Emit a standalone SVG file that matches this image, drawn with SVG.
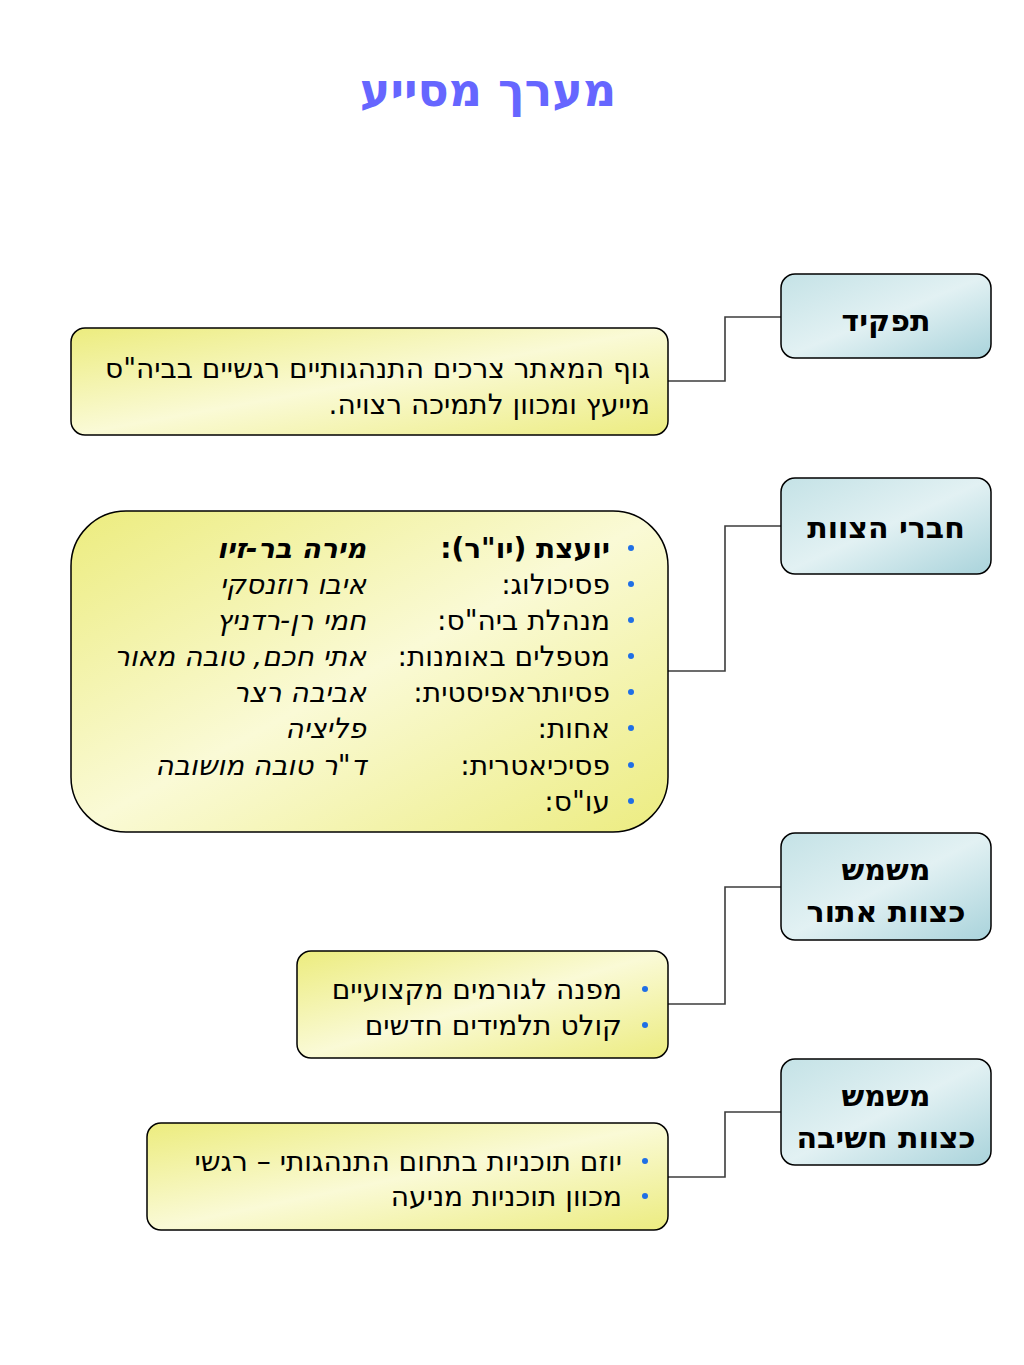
<svg xmlns="http://www.w3.org/2000/svg" width="1024" height="1365" viewBox="0 0 1024 1365">
<defs>
<linearGradient id="gy" x1="0" y1="0" x2="1" y2="1">
<stop offset="0" stop-color="#ecec7e"/>
<stop offset="0.5" stop-color="#fafad6"/>
<stop offset="1" stop-color="#ecec80"/>
</linearGradient>
<linearGradient id="gt" x1="0" y1="0" x2="1" y2="1">
<stop offset="0" stop-color="#c4e2e6"/>
<stop offset="0.5" stop-color="#e2f1f3"/>
<stop offset="1" stop-color="#a9d3db"/>
</linearGradient>
<style>
.y{fill:url(#gy);stroke:#000;stroke-width:1.5}
.t{fill:url(#gt);stroke:#000;stroke-width:1.5}
.h{font-family:"DejaVu Sans","Noto Sans",sans-serif;font-size:30px;font-weight:bold;fill:#000;text-anchor:middle}
.tx{font-family:"DejaVu Sans","Noto Sans",sans-serif;font-size:28px;fill:#000;direction:rtl;text-anchor:start}
.it{font-style:italic}
.b{font-weight:bold}
.bu{fill:#1f6fe6}
.c{fill:none;stroke:#3c3c3c;stroke-width:1.6}
</style>
</defs>
<rect width="1024" height="1365" fill="#fff"/>
<text x="488" y="106" font-family="DejaVu Sans, sans-serif" font-size="46" font-weight="bold" fill="#6666ff" text-anchor="middle">מערך מסייע</text>

<g id="connectors">
<polyline class="c" points="781,317 725,317 725,381 668,381"/>
<polyline class="c" points="781,526 725,526 725,671 668,671"/>
<polyline class="c" points="781,887 725,887 725,1004 668,1004"/>
<polyline class="c" points="781,1112 725,1112 725,1177 668,1177"/>
</g>

<g id="role">
<rect class="t" x="781" y="274" width="210" height="84" rx="14"/>
<text class="h" x="886" y="331">תפקיד</text>
</g>
<g id="role-desc">
<rect class="y" x="71" y="328" width="597" height="107" rx="14"/>
<text class="tx" x="650" y="378">גוף המאתר צרכים התנהגותיים רגשיים בביה"ס</text>
<text class="tx" x="650" y="414">מייעץ ומכוון לתמיכה רצויה.</text>
</g>

<g id="members">
<rect class="t" x="781" y="478" width="210" height="96" rx="14"/>
<text class="h" x="886" y="538">חברי הצוות</text>
</g>
<g id="members-list">
<rect class="y" x="71" y="511" width="597" height="321" rx="55"/>
<circle class="bu" cx="631" cy="548" r="3"/>
<circle class="bu" cx="631" cy="584" r="3"/>
<circle class="bu" cx="631" cy="620" r="3"/>
<circle class="bu" cx="631" cy="656" r="3"/>
<circle class="bu" cx="631" cy="692" r="3"/>
<circle class="bu" cx="631" cy="728" r="3"/>
<circle class="bu" cx="631" cy="765" r="3"/>
<circle class="bu" cx="631" cy="801" r="3"/>
<text class="tx b" x="610" y="558">יועצת (יו"ר):</text>
<text class="tx" x="610" y="594">פסיכולוג:</text>
<text class="tx" x="610" y="630">מנהלת ביה"ס:</text>
<text class="tx" x="610" y="666">מטפלים באומנות:</text>
<text class="tx" x="610" y="702">פסיותראפיסטית:</text>
<text class="tx" x="610" y="738">אחות:</text>
<text class="tx" x="610" y="775">פסיכיאטרית:</text>
<text class="tx" x="610" y="811">עו"ס:</text>
<text class="tx it b" x="366" y="558">מירה בר-זיו</text>
<text class="tx it" x="366" y="594">איבו רוזנסקי</text>
<text class="tx it" x="366" y="630">חמי רן-רדניץ</text>
<text class="tx it" x="366" y="666">אתי חכם, טובה מאור</text>
<text class="tx it" x="366" y="702">אביבה רצר</text>
<text class="tx it" x="366" y="738">פליציה</text>
<text class="tx it" x="366" y="775">ד"ר טובה מושובה</text>
</g>

<g id="detect">
<rect class="t" x="781" y="833" width="210" height="107" rx="14"/>
<text class="h" x="886" y="880">משמש</text>
<text class="h" x="886" y="922">כצוות אתור</text>
</g>
<g id="detect-list">
<rect class="y" x="297" y="951" width="371" height="107" rx="14"/>
<circle class="bu" cx="645" cy="989" r="3"/>
<circle class="bu" cx="645" cy="1025" r="3"/>
<text class="tx" x="622" y="999">מפנה לגורמים מקצועיים</text>
<text class="tx" x="622" y="1035">קולט תלמידים חדשים</text>
</g>

<g id="think">
<rect class="t" x="781" y="1059" width="210" height="106" rx="14"/>
<text class="h" x="886" y="1106">משמש</text>
<text class="h" x="886" y="1148">כצוות חשיבה</text>
</g>
<g id="think-list">
<rect class="y" x="147" y="1123" width="521" height="107" rx="14"/>
<circle class="bu" cx="645" cy="1161" r="3"/>
<circle class="bu" cx="645" cy="1196" r="3"/>
<text class="tx" x="622" y="1171">יוזם תוכניות בתחום התנהגותי – רגשי</text>
<text class="tx" x="622" y="1206">מכוון תוכניות מניעה</text>
</g>
</svg>
